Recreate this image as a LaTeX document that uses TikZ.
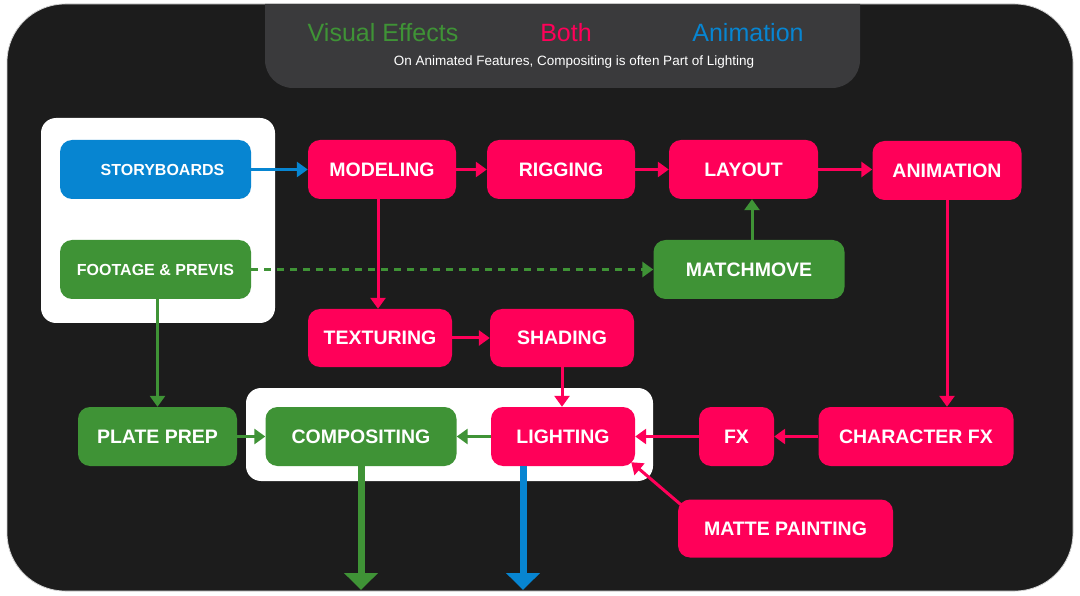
\documentclass[tikz,border=0pt]{standalone}
\usepackage{fontspec}
\setmainfont{Liberation Sans}
\usetikzlibrary{arrows.meta}
\definecolor{vpink}{HTML}{FF0059}
\definecolor{vgreen}{HTML}{3F9336}
\definecolor{vblue}{HTML}{0785D1}
\definecolor{framebg}{HTML}{1C1C1C}
\definecolor{panelbg}{HTML}{3A3A3C}
\begin{document}
\begin{tikzpicture}[x=1pt,y=-1pt,
 box/.style={rounded corners=12pt, text=white, font=\bfseries\fontsize{19.5}{22}\selectfont, inner sep=0pt, minimum height=59pt},
 pinkbox/.style={box, fill=vpink},
 greenbox/.style={box, fill=vgreen},
 bluebox/.style={box, fill=vblue},
 smalltext/.style={font=\bfseries\fontsize{16}{19}\selectfont},
 group/.style={fill=white, rounded corners=15pt, inner sep=0pt},
 conn/.style={line width=3pt, -{Triangle[width=15pt,length=11pt]}},
 bigconn/.style={line width=7pt, -{Triangle[width=33pt,length=17pt]}},
 legend/.style={font=\fontsize{25}{28}\selectfont, anchor=base},
]
\useasboundingbox (0,0) rectangle (1080,596);
\fill[white] (0,0) rectangle (1080,596);
\fill[framebg, draw=gray!35, line width=0.8pt, rounded corners=58pt] (7,4) rectangle (1073,591);
\begin{scope}
\clip[rounded corners=58pt] (7,4) rectangle (1073,591);
\fill[panelbg, rounded corners=28pt] (265,-40) rectangle (860,88);
\end{scope}
\node[legend, text=vgreen] (lve) at (383,42) {Visual Effects};
\node[legend, text=vpink] (lboth) at (566,42) {Both};
\node[legend, text=vblue] (lanim) at (748,42) {Animation};
\node[text=white, font=\fontsize{13.5}{16}\selectfont, anchor=base] (note) at (574,66) {On Animated Features, Compositing is often Part of Lighting};

% groups
\node[group, minimum width=234pt, minimum height=205pt] (grpL) at (158,220.5) {};
\node[group, minimum width=407pt, minimum height=93pt] (grpB) at (449.5,434.5) {};

% nodes
\node[bluebox, smalltext, minimum width=191pt] (story) at (155.5,169.5) {\hspace*{14pt}STORYBOARDS};
\node[greenbox, smalltext, minimum width=191pt] (footage) at (155.5,269.5) {FOOTAGE \& PREVIS};
\node[pinkbox, minimum width=148pt] (model) at (382,169.5) {MODELING};
\node[pinkbox, minimum width=148pt] (rig) at (561,169.5) {RIGGING};
\node[pinkbox, minimum width=149pt] (layout) at (743.5,169.5) {LAYOUT};
\node[pinkbox, minimum width=149pt] (anim) at (947,170.5) {ANIMATION};
\node[greenbox, minimum width=191pt] (match) at (749,269.5) {MATCHMOVE};
\node[pinkbox, minimum width=144pt, minimum height=58pt] (tex) at (380,338) {TEXTURING};
\node[pinkbox, minimum width=144pt, minimum height=58pt] (shade) at (562,338) {SHADING};
\node[greenbox, minimum width=191pt] (comp) at (361,436.5) {COMPOSITING};
\node[pinkbox, minimum width=144pt] (light) at (563,436.5) {LIGHTING};
\node[greenbox, minimum width=159pt] (plate) at (157.5,436.5) {PLATE PREP};
\node[pinkbox, minimum width=75pt] (fx) at (736.5,436.5) {FX};
\node[pinkbox, minimum width=195pt] (cfx) at (916,436.5) {CHARACTER FX};
\node[pinkbox, minimum width=215pt, minimum height=58pt] (matte) at (785.5,528.5) {MATTE PAINTING};

% connectors
\draw[conn, vblue] (story) -- (model);
\draw[conn, vpink] (model) -- (rig);
\draw[conn, vpink] (rig) -- (layout);
\draw[conn, vpink] (layout.east) -- (layout.east -| anim.west);
\draw[conn, vgreen] ([xshift=3pt]match.north) -- ([xshift=3pt]match.north |- layout.south);
\draw[vgreen, line width=3.5pt, dash pattern=on 7pt off 6pt, -{Triangle[width=15pt,length=11pt]}] (footage) -- (match);
\draw[conn, vpink] ([xshift=-2pt]tex.north |- model.south) -- ([xshift=-2pt]tex.north);
\draw[conn, vpink] (tex) -- (shade);
\draw[conn, vpink] (shade.south) -- (shade.south |- light.north);
\draw[conn, vpink] (anim.south) -- (anim.south |- cfx.north);
\draw[conn, vpink] (cfx) -- (fx);
\draw[conn, vpink] (fx) -- (light);
\draw[conn, vpink] ([shift={(5,7)}]matte.north west) -- ([shift={(-4,-4)}]light.south east);
\draw[conn, vgreen] (plate.north |- footage.south) -- (plate.north);
\draw[conn, vgreen] (plate) -- (comp);
\draw[conn, vgreen] (light) -- (comp);
\coordinate (compout) at (361,590);
\coordinate (lightout) at (523,590);
\draw[bigconn, vgreen] (comp.south) -- (compout);
\draw[bigconn, vblue] (light.south -| lightout) -- (lightout);
\end{tikzpicture}
\end{document}
